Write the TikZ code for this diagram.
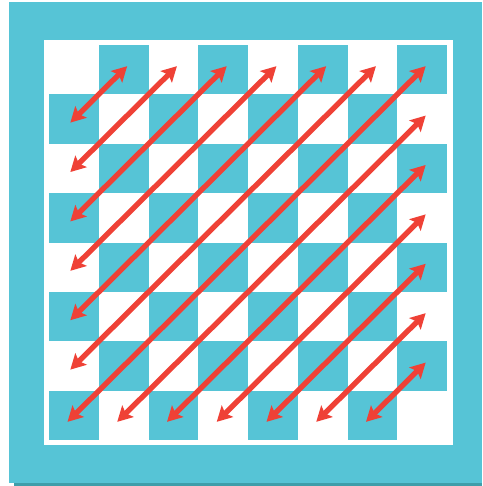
\documentclass[tikz,border=0pt]{standalone}
\usetikzlibrary{arrows.meta}
\definecolor{teal1}{RGB}{86,196,214}
\definecolor{tealdark}{RGB}{62,158,170}
\definecolor{redarrow}{RGB}{239,65,54}
\begin{document}
\begin{tikzpicture}[x=1pt,y=-1pt,
  cellbox/.style={draw=none,minimum width=49.75pt,minimum height=49.4pt,inner sep=0pt,outer sep=0pt},
  zig/.style={redarrow,line width=5.3pt,
    {Stealth[length=15pt,width=16pt,inset=3pt]}-{Stealth[length=15pt,width=16pt,inset=3pt]},
    shorten <=-5pt,shorten >=-5pt}]
\useasboundingbox (0,0) rectangle (482,486);
\fill[tealdark] (14,470) rectangle (482,486);
\fill[teal1] (9,2) rectangle (482,483);
\fill[white] (44,40) rectangle (453,445);
\foreach \r in {0,...,7} \foreach \c in {0,...,7} {
  \pgfmathtruncatemacro\odd{mod(\r+\c,2)}
  \ifnum\odd=1
    \node[cellbox,fill=teal1] (c\r\c) at ({49+49.75*(\c+0.5)},{45+49.4*(\r+0.5)}) {};
  \else
    \node[cellbox] (c\r\c) at ({49+49.75*(\c+0.5)},{45+49.4*(\r+0.5)}) {};
  \fi
}
\foreach \k in {1,...,6} \draw[zig] (c\k0.center) -- (c0\k.center);
\draw[zig,shorten <=-9pt] (c70.center) -- (c07.center);
\foreach \k in {1,...,6} \draw[zig,shorten <=-9pt] (c7\k.center) -- (c\k7.center);
\end{tikzpicture}
\end{document}
